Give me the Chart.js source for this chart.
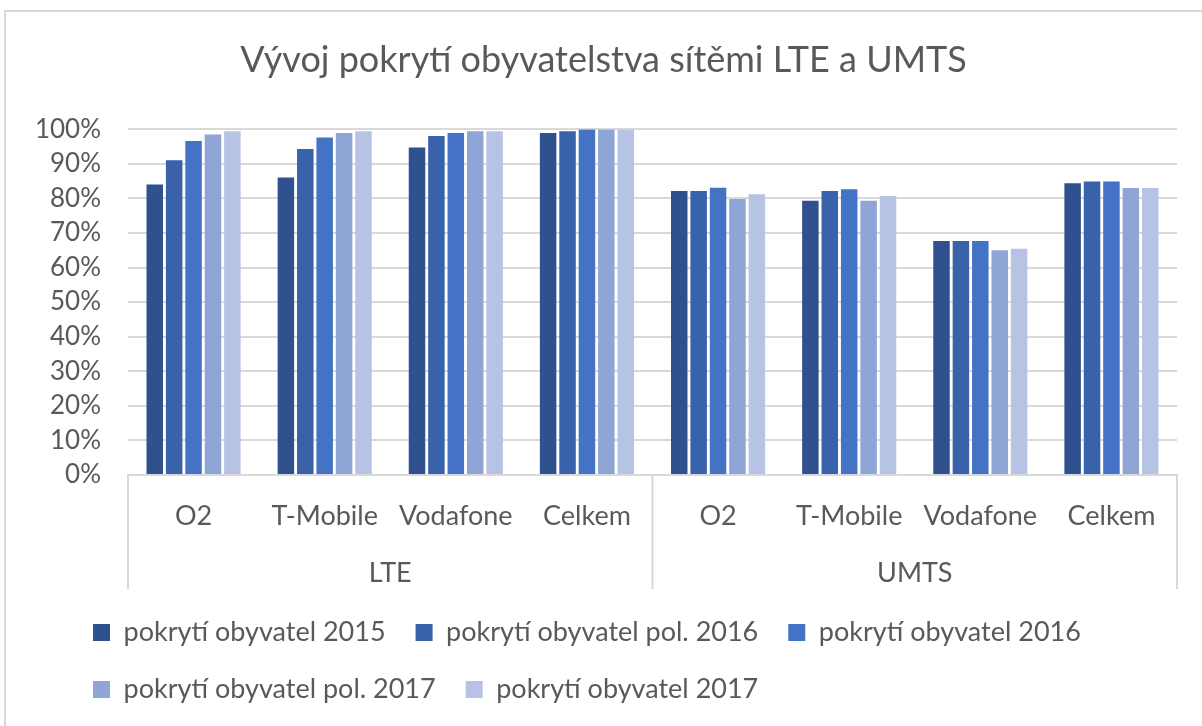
<!DOCTYPE html>
<html lang="cs">
<head>
<meta charset="utf-8">
<title>Vývoj pokrytí obyvatelstva sítěmi LTE a UMTS</title>
<script src="https://cdn.jsdelivr.net/npm/chart.js@4/dist/chart.umd.min.js"></script>
<style>
    html, body {
        margin: 0;
        padding: 0;
        background: #ffffff;
    }
    #wrap {
        position: relative;
        width: 1202px;
        height: 726px;
    }
    #frame {
        position: absolute;
        left: 4px;
        top: 10px;
        right: -4px;
        bottom: -4px;
        border-top: 2px solid #d9d9d9;
        border-left: 2px solid #d9d9d9;
        pointer-events: none;
    }
</style>
</head>
<body>
<div id="wrap">
    <canvas id="coverageChart" width="1202" height="726"></canvas>
    <div id="frame"></div>
</div>
<script>
const categories = ['O2', 'T-Mobile', 'Vodafone', 'Celkem', 'O2', 'T-Mobile', 'Vodafone', 'Celkem'];
const groups = ['LTE', 'UMTS'];
const seriesNames = [
    'pokrytí obyvatel 2015',
    'pokrytí obyvatel pol. 2016',
    'pokrytí obyvatel 2016',
    'pokrytí obyvatel pol. 2017',
    'pokrytí obyvatel 2017'
];
const cover2015 = [84.0, 86.0, 94.7, 98.9, 82.1, 79.3, 67.7, 84.4];
const coverHalf2016 = [91.0, 94.3, 98.0, 99.4, 82.1, 82.1, 67.7, 84.9];
const cover2016 = [96.6, 97.6, 98.9, 99.9, 83.1, 82.6, 67.7, 84.9];
const coverHalf2017 = [98.5, 98.9, 99.4, 99.9, 79.8, 79.3, 65.0, 83.0];
const cover2017 = [99.4, 99.4, 99.4, 99.9, 81.2, 80.7, 65.4, 83.0];
const yTicks = [0, 10, 20, 30, 40, 50, 60, 70, 80, 90, 100];

const colors = ['#2f528f', '#3a62ab', '#4472c4', '#8fa5d6', '#b7c3e4'];
const textColor = '#595959';
const lineColor = '#d9d9d9';
const fontName = 'Lato';
const legendStartX = 93;

// vertical lines that box the LTE / UMTS groups under the axis
const groupLines = {
    id: 'groupLines',
    afterDraw(chart) {
        const xs = chart.scales.x;
        const gs = chart.scales.x2;
        const ctx = chart.ctx;
        const per = categories.length / groups.length;
        const step = (xs.right - xs.left) / categories.length;
        ctx.save();
        ctx.strokeStyle = lineColor;
        ctx.lineWidth = 2;
        for (let i = 0; i <= groups.length; i++) {
            const px = xs.left + step * per * i;
            ctx.beginPath();
            ctx.moveTo(px, xs.top);
            ctx.lineTo(px, gs.bottom);
            ctx.stroke();
        }
        ctx.restore();
    }
};

// move the legend block right so it lines up under the plot like in Excel
const legendShift = {
    id: 'legendShift',
    afterLayout(chart) {
        const lg = chart.legend;
        if (!lg) return;
        const shift = legendStartX - (lg.left + lg.options.labels.padding);
        lg.left += shift;
        lg.right += shift;
    }
};

document.addEventListener('DOMContentLoaded', function() {
    initChart();
});

function initChart() {
    const canvas = document.getElementById('coverageChart');
    if (!canvas) return;

    const values = [cover2015, coverHalf2016, cover2016, coverHalf2017, cover2017];
    const datasets = values.map((data, i) => ({
        label: seriesNames[i],
        data: data,
        backgroundColor: colors[i],
        borderWidth: 0,
        categoryPercentage: 0.74,
        barPercentage: 0.85
    }));

    new Chart(canvas, {
        type: 'bar',
        data: {
            labels: categories,
            datasets: datasets
        },
        plugins: [groupLines, legendShift],
        options: {
            responsive: false,
            animation: false,
            layout: {
                padding: {
                    left: 30,
                    right: 25,
                    top: 20,
                    bottom: 13
                }
            },
            scales: {
                x: {
                    weight: 0,
                    grid: {
                        display: false,
                        drawTicks: false
                    },
                    border: {
                        display: true,
                        color: lineColor,
                        width: 2
                    },
                    ticks: {
                        color: textColor,
                        padding: 25,
                        maxRotation: 0,
                        autoSkip: false,
                        font: { family: fontName, size: 27 }
                    },
                    afterFit: function(scale) {
                        scale.height = 54;
                    }
                },
                x2: {
                    type: 'category',
                    labels: groups,
                    position: 'bottom',
                    weight: 1,
                    offset: true,
                    grid: {
                        display: false,
                        drawTicks: false
                    },
                    border: {
                        display: false
                    },
                    ticks: {
                        color: textColor,
                        padding: 28,
                        maxRotation: 0,
                        font: { family: fontName, size: 27 }
                    },
                    afterFit: function(scale) {
                        scale.height = 60;
                    }
                },
                y: {
                    min: 0,
                    max: 100,
                    afterBuildTicks: function(scale) {
                        scale.ticks = yTicks.map(v => ({ value: v }));
                    },
                    grid: {
                        color: lineColor,
                        lineWidth: 2,
                        drawTicks: false
                    },
                    border: {
                        display: false
                    },
                    ticks: {
                        color: textColor,
                        padding: 27,
                        autoSkip: false,
                        font: { family: fontName, size: 26 },
                        callback: function(value) {
                            return value + '%';
                        }
                    },
                    afterFit: function(scale) {
                        scale.width = 98;
                    }
                }
            },
            plugins: {
                title: {
                    display: true,
                    text: 'Vývoj pokrytí obyvatelstva sítěmi LTE a UMTS',
                    color: textColor,
                    font: { family: fontName, size: 36, weight: 'normal' },
                    padding: { top: 19, bottom: 47 }
                },
                legend: {
                    position: 'bottom',
                    align: 'start',
                    labels: {
                        color: textColor,
                        boxWidth: 17,
                        boxHeight: 17,
                        padding: 30,
                        font: { family: fontName, size: 27 }
                    }
                },
                tooltip: {
                    enabled: false
                }
            }
        }
    });
}
</script>
</body>
</html>
